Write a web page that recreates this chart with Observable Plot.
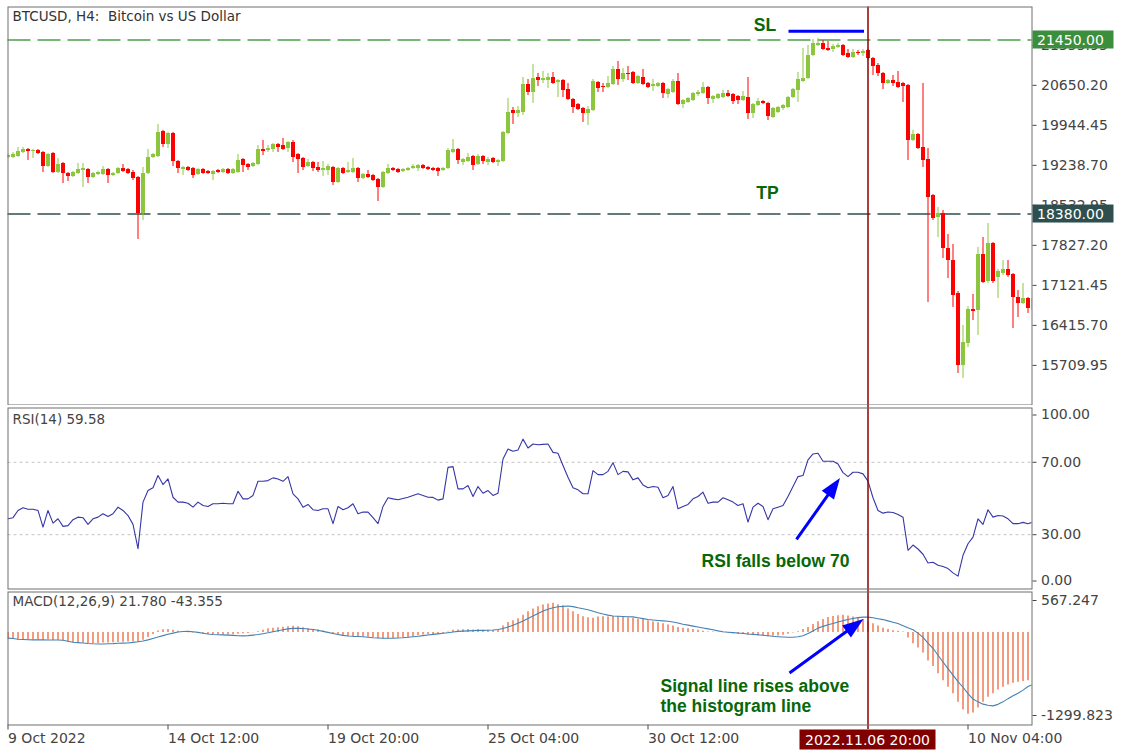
<!DOCTYPE html>
<html>
<head>
<meta charset="utf-8">
<title>BTCUSD H4</title>
<script src="https://cdn.jsdelivr.net/npm/d3@7"></script>
<script src="https://cdn.jsdelivr.net/npm/@observablehq/plot@0.6"></script>
<style>
  html, body { margin: 0; padding: 0; background: #fff; }
  #chart { position: relative; width: 1122px; height: 755px; overflow: hidden; background: #fff; }
  #chart svg { position: absolute; left: 0; }
</style>
</head>
<body>
<div id="chart"></div>
<script>
// ---------------- DATA (H4 bars, first bar index = -1) ----------------
const firstBar = -1;

const candleOpen = [
  19378,
  19378,19395,19466,19519,19483,19501,19466,19219,19448,19113,
  19272,19095,19042,19095,19148,19166,19025,19078,19078,19166,
  19060,19095,19183,19166,19113,19025,18390,19095,19378,19395,
  19836,19607,19801,19307,19166,19201,19183,19078,19166,19131,
  19078,19148,19113,19166,19095,19113,19342,19254,19219,19254,
  19519,19501,19519,19607,19589,19536,19642,19430,19360,19219,
  19289,19201,19148,19148,19201,18937,19183,19113,19113,19183,
  19007,19078,19060,18989,18848,19095,19183,19166,19131,19148,
  19183,19183,19236,19201,19183,19183,19148,19183,19466,19519,
  19289,19307,19395,19254,19395,19289,19360,19289,19307,19801,
  20207,20154,20171,20665,20524,20789,20736,20736,20789,20701,
  20736,20577,20401,20312,20242,20154,20207,20701,20630,20612,
  20665,20930,20753,20859,20877,20683,20789,20683,20630,20630,
  20683,20489,20524,20718,20312,20348,20383,20489,20506,20612,
  20401,20418,20436,20506,20489,20454,20383,20436,20154,20295,
  20365,20330,20083,20171,20242,20260,20436,20559,20718,20771,
  21177,21353,21388,21300,21283,21318,21353,21212,21142,21230,
  21212,21265,21124,21000,20859,20683,20736,20701,20683,20648,
  19677,19783,19554,19342,18707,18319,18390,17772,17561,16979,
  15708,16097,16696,16679,17666,17190,17860,17261,17331,17402,
  17314,16908,16802,16890,16679
];
const candleHigh = [
  19430,
  19466,19554,19554,19536,19519,19519,19483,19448,19466,19360,
  19289,19113,19131,19272,19272,19183,19113,19131,19219,19183,
  19113,19201,19254,19183,19148,19042,19201,19519,19448,19960,
  19854,19819,19819,19325,19219,19219,19201,19183,19183,19148,
  19148,19166,19183,19183,19183,19430,19360,19272,19289,19589,
  19677,19589,19624,19624,19713,19660,19677,19448,19378,19342,
  19307,19289,19307,19254,19219,19201,19201,19289,19360,19201,
  19095,19148,19078,19007,19131,19254,19201,19183,19183,19201,
  19254,19254,19254,19219,19201,19201,19201,19536,19695,19536,
  19360,19448,19413,19430,19413,19378,19378,19342,19836,20418,
  20260,20277,20789,20753,21018,20859,20895,20859,20877,20753,
  20753,20683,20418,20330,20260,20277,20753,20718,20683,20806,
  20983,21071,20947,20983,20895,20824,20930,20701,20753,20701,
  20701,20595,20753,20859,20401,20436,20524,20559,20701,20630,
  20471,20506,20559,20559,20506,20471,20542,20789,20330,20418,
  20383,20348,20260,20277,20312,20454,20595,20877,21300,21353,
  21459,21476,21441,21424,21371,21388,21371,21283,21283,21265,
  21283,21283,21142,21036,20877,20753,20824,20895,20701,20665,
  19854,19801,20683,19536,18725,18496,18443,18019,17843,17014,
  16414,16749,16961,17790,17966,18213,17878,17402,17561,17561,
  17331,17031,17155,16908,16926
];
const candleLow = [
  19360,
  19360,19378,19448,19325,19360,19430,19113,19201,19095,19095,
  18919,18954,19025,19078,18848,18919,19007,19060,19060,18919,
  19042,19078,19113,19078,18972,17931,18266,19078,19360,19378,
  19554,19536,19219,19095,19060,19131,19007,19060,19078,19078,
  18972,19095,19095,19078,19078,19095,19113,19148,19201,19236,
  19413,19466,19466,19466,19501,19466,19289,19095,19148,19201,
  19131,19113,19042,19060,18884,18919,19078,19095,19095,18937,
  18989,19007,18954,18601,18831,19078,19131,19095,19113,19131,
  19166,19131,19166,19148,19131,19042,19131,19166,19448,19254,
  19236,19289,19148,19236,19254,19236,19272,19219,19289,19783,
  19960,20083,20118,20471,20330,20630,20683,20595,20665,20436,
  20436,20383,20154,20207,19995,19942,20189,20524,20524,20595,
  20648,20648,20701,20736,20665,20665,20648,20595,20542,20612,
  20418,20418,20506,20295,20242,20330,20365,20454,20489,20312,
  20330,20401,20418,20436,20312,20312,20365,20048,20065,20277,
  20312,20030,20065,20154,20207,20242,20418,20348,20701,20753,
  21159,21336,21265,21247,21230,21300,21159,21124,21124,21177,
  21159,21089,20824,20806,20577,20665,20630,20595,20348,19325,
  19660,19519,19201,16820,18266,17966,17596,17243,16732,15567,
  15479,16026,16502,16238,17155,17155,17155,16890,17296,17261,
  16361,16555,16784,16626,16643
];
const candleClose = [
  19413,
  19430,19483,19519,19483,19501,19448,19219,19430,19113,19254,
  19095,19042,19113,19166,19183,19025,19095,19113,19166,19060,
  19095,19183,19131,19095,19007,18390,19095,19378,19430,19819,
  19607,19801,19307,19183,19201,19148,19060,19166,19095,19095,
  19131,19113,19166,19095,19166,19325,19236,19201,19272,19519,
  19483,19536,19607,19554,19519,19642,19378,19342,19201,19289,
  19183,19148,19183,19219,18937,19183,19095,19148,19183,19007,
  19078,19025,18972,18848,19113,19183,19148,19113,19166,19183,
  19219,19236,19183,19166,19148,19131,19183,19501,19519,19325,
  19342,19378,19236,19395,19307,19342,19289,19325,19819,20171,
  20154,20207,20665,20524,20771,20736,20771,20789,20683,20736,
  20559,20401,20260,20224,20154,20224,20718,20595,20612,20683,
  20930,20753,20859,20842,20683,20806,20665,20612,20665,20683,
  20506,20577,20718,20312,20383,20418,20506,20524,20612,20418,
  20454,20489,20506,20454,20365,20383,20454,20154,20312,20365,
  20330,20101,20242,20260,20295,20436,20577,20753,20771,21177,
  21388,21388,21283,21265,21336,21353,21177,21142,21230,21212,
  21247,21124,20983,20859,20683,20736,20683,20612,20630,19677,
  19783,19536,19325,18672,18301,18390,17772,17561,16943,15708,
  16114,16696,16661,17666,17173,17860,17190,17367,17402,17296,
  16908,16802,16890,16714,16890
];
const rsiValues = [
  38.8,
  39.4,43.4,44.9,44.1,44.1,43.4,34.2,43.4,36.4,38.8,
  34.6,35,38.3,39.7,39.4,35.7,38.8,39.7,41.6,40.1,
  41.6,45.2,43.4,40.6,35.7,22.3,48,54.4,55.9,62.7,
  57.7,60.8,50.7,48,48,47.4,45.2,48,46.1,45.6,
  47.1,47.1,47.4,47.1,47.1,54,49.8,49.8,51.7,59.5,
  59.5,59.9,61.4,60.8,59.5,62.1,52.6,49.8,45.2,46.7,
  43.8,43.4,44.3,44.3,36.1,45.6,43.8,44.9,47.1,41.6,
  42.5,42.5,39.4,36.1,45.6,50.4,49.8,49.3,50,50.7,
  51.7,52.6,51.7,50.7,50.6,49.1,49.8,67.2,67.6,55.3,
  55.3,57.2,51.1,56.6,52.9,54.4,51.7,52.9,71.8,77.3,
  76.1,76.8,82.8,77.9,80.1,79.7,79.9,80.1,75.5,75,
  68.2,61.7,55.9,54.8,52.6,52.6,65.4,63.2,63.2,65,
  69.8,63.2,65,64.7,60.3,61.4,57.5,55.9,56.6,56.2,
  50.4,51.7,56.6,44.3,45.6,46.7,49.8,51.1,53.5,47.4,
  48,48,50.4,49.3,48,46.1,47.1,37,45.2,47.4,
  45.6,38.3,44.3,45.2,46.1,51.1,56.6,62.1,62.7,71.3,
  74.6,75,70.6,70.6,70.6,69.1,64.3,62.1,64.5,64.5,
  63.6,59.6,50.4,43.4,41.9,42.5,42.3,41.2,39.7,21.4,
  24.3,22.1,19.2,14.4,14.8,13.1,12.4,11.3,8.9,7.1,
  18.6,25,28.7,38.8,35.7,43.8,39.7,40.6,40.3,38.8,
  36.1,36.1,36.8,36.1,37
];
const macdHist = [
  -95,
  -100,-105,-108,-108,-105,-105,-110,-108,-112,-110,
  -120,-140,-148,-150,-150,-155,-158,-155,-150,-150,
  -145,-140,-138,-135,-130,-140,-110,-70,-30,20,
  38,40,30,15,5,-5,-10,-15,-25,-30,
  -33,-33,-35,-35,-33,-25,-20,-15,-5,10,
  30,50,60,65,72,80,85,78,65,50,
  40,35,20,0,-30,-45,-55,-57,-57,-60,
  -62,-68,-75,-85,-90,-88,-85,-82,-80,-75,
  -60,-45,-38,-33,-30,-25,-15,5,30,35,
  38,40,35,38,32,30,28,30,90,140,
  165,190,240,290,330,360,385,400,410,390,
  370,330,290,250,220,205,200,215,220,218,
  222,220,215,205,195,185,180,165,145,135,
  120,105,90,70,60,50,40,30,15,5,
  5,0,-5,-10,-20,-30,-30,-40,-45,-50,
  -55,-60,-55,-50,-40,-25,-10,10,40,70,
  110,150,180,210,225,235,240,230,215,200,
  180,150,120,90,60,40,25,15,5,-80,
  -160,-220,-290,-400,-480,-580,-680,-770,-860,-980,
  -1090,-1150,-1130,-1060,-980,-910,-860,-810,-770,-740,
  -715,-700,-690,-680,-665
];
const macdSignal = [
  -80,
  -85,-95,-100,-104,-105,-105,-105,-106,-106,-107,
  -110,-125,-138,-143,-148,-155,-160,-162,-162,-160,
  -157,-152,-150,-148,-140,-132,-120,-105,-85,-65,
  -45,-25,-10,5,12,14,10,0,-12,-22,
  -30,-33,-35,-38,-42,-46,-48,-45,-38,-30,
  -18,-5,10,24,38,50,57,58,55,48,
  40,30,15,0,-15,-30,-42,-50,-55,-58,
  -62,-68,-74,-78,-81,-82,-81,-78,-74,-68,
  -60,-53,-45,-37,-28,-20,-12,-4,5,14,
  18,22,25,28,29,30,33,40,55,75,
  100,130,160,195,230,265,300,325,345,360,
  365,370,362,345,333,318,298,275,258,243,
  230,226,223,220,218,205,193,182,175,168,
  162,157,145,132,115,102,88,75,62,50,
  37,22,10,3,-3,-9,-15,-22,-27,-33,
  -40,-47,-55,-60,-64,-67,-67,-62,-48,-15,
  20,60,85,108,124,145,165,180,195,208,
  214,214,205,192,180,162,143,124,95,65,
  38,-10,-70,-150,-223,-320,-415,-508,-600,-690,
  -770,-860,-936,-975,-1007,-1022,-1031,-1010,-975,-930,
  -890,-855,-810,-760,-730
];

const priceTicks = [21355.95, 20650.20, 19944.45, 19238.70, 18532.95, 17827.20, 17121.45, 16415.70, 15709.95];
const priceDomain = [15011, 22032];
const slLevel = 21450;
const tpLevel = 18380;
const rsiLevels = [70, 30];
const rsiDomain = [0, 100];
const macdDomain = [-1299.823, 567.247];
const timeTickBars = [-1, 31, 63, 95, 127, 191];
const timeTickLabels = ["9 Oct 2022", "14 Oct 12:00", "19 Oct 20:00", "25 Oct 04:00", "30 Oct 12:00", "10 Nov 04:00"];
const selectedBar = 171;
const selectedLabel = "2022.11.06 20:00";

const titleText = "BTCUSD, H4:  Bitcoin vs US Dollar";
const rsiLabel = "RSI(14) 59.58";
const macdLabel = "MACD(12,26,9) 21.780 -43.355";

// annotations (in data units: bar index, value)
const slMarker = {x1: 155.2, x2: 170.3, y: 21605};
const levelTexts = [{bar: 150.4, price: 21706, text: "SL"}, {bar: 150.9, price: 18737, text: "TP"}];
const rsiNote = {bar: 152.5, value: 15.3, text: "RSI falls below 70"};
const rsiArrow = {x1: 156.7, y1: 27.4, x2: 165.4, y2: 61.3};
const macdNote = {bar: 129.5, value: -886, text: "Signal line rises above\nthe histogram line"};
const macdArrow = {x1: 155.3, y1: -570, x2: 170.1, y2: 187};

// ---------------- LAYOUT / STYLE ----------------
const W = 1122;
const plotLeft = 7.5, plotRight = 1031.5;
const xDomain = [-1, 203.8];
const fontMain = '"DejaVu Sans", Verdana, sans-serif';
const baseStyle = {fontFamily: fontMain, fontSize: "14px", color: "#444", background: "white"};
const annoFont = '"Liberation Sans", Arial, sans-serif';
const annoSize = 17.5;
const annoColor = "#086808";
const upColor = "#8cc63f", downColor = "#ff0000";
const cursorColor = "#8b0000";
const frameColor = "#6e6e6e";
const arrowColor = "#0000ff";

const candles = candleOpen.map((o, k) => ({bar: firstBar + k, open: o, high: candleHigh[k], low: candleLow[k], close: candleClose[k]}));
const upC = candles.filter(d => d.close >= d.open);
const downC = candles.filter(d => d.close < d.open);
const rsiData = rsiValues.map((v, k) => ({bar: firstBar + k, rsi: v}));
const macdData = macdHist.map((v, k) => ({bar: firstBar + k, hist: v, signal: macdSignal[k]}));
const tickLabelOf = new Map(timeTickBars.map((b, i) => [b, timeTickLabels[i]]));

const kx = (plotRight - plotLeft) / (xDomain[1] - xDomain[0]);

const arrowHeadSymbol = {
  draw(ctx) { ctx.moveTo(0, -13); ctx.lineTo(7.5, 8); ctx.lineTo(-7.5, 8); ctx.closePath(); }
};
function arrowMarks(a, ky) {
  const dx = (a.x2 - a.x1) * kx, dy = -(a.y2 - a.y1) * ky;
  const len = Math.hypot(dx, dy), ux = dx / len, uy = dy / len;
  const back = 13;
  const head = {x: a.x2 - ux * back / kx, y: a.y2 + uy * back / ky};
  const rot = Math.atan2(ux, -uy) * 180 / Math.PI;
  return [
    Plot.link([a], {x1: "x1", y1: "y1", x2: () => head.x, y2: () => head.y, stroke: arrowColor, strokeWidth: 3}),
    Plot.dot([head], {x: "x", y: "y", rotate: rot, symbol: arrowHeadSymbol, fill: arrowColor, stroke: "none", r: 6})
  ];
}

function candleMarks(data, color) {
  return [
    Plot.ruleX(data, {x: "bar", y1: "low", y2: "high", stroke: color, strokeWidth: 1, clip: true}),
    Plot.ruleX(data, {x: "bar", y1: "open", y2: "close", stroke: color, strokeWidth: 4, clip: true})
  ];
}

// ---------------- MAIN PRICE PANEL ----------------
const mainH = 405;
const main = Plot.plot({
  width: W, height: mainH,
  marginLeft: plotLeft, marginRight: W - plotRight, marginTop: 6.5, marginBottom: 0.5,
  style: baseStyle,
  x: {domain: xDomain, axis: null},
  y: {domain: priceDomain},
  marks: [
    Plot.ruleY([slLevel], {stroke: "#4a9f4a", strokeWidth: 1.5, strokeDasharray: "23,7"}),
    Plot.ruleY([tpLevel], {stroke: "#2f4f4f", strokeWidth: 1.5, strokeDasharray: "23,7"}),
    ...candleMarks(upC, upColor),
    ...candleMarks(downC, downColor),
    Plot.ruleX([selectedBar], {stroke: cursorColor, strokeWidth: 1.5, insetBottom: -0.5}),
    Plot.ruleY([slMarker], {x1: "x1", x2: "x2", y: "y", stroke: "#0000ff", strokeWidth: 3}),
    Plot.text(levelTexts, {x: "bar", y: "price", text: "text", fill: annoColor, fontFamily: annoFont, fontWeight: "bold", fontSize: annoSize}),
    Plot.text([titleText], {text: d => d, frameAnchor: "top-left", dx: 4.5, dy: 4, fontSize: 13.5, fill: "#333"}),
    Plot.axisY({anchor: "right", ticks: priceTicks, tickFormat: d => d.toFixed(2), tickSize: 4, tickPadding: 5, label: null}),
    Plot.frame({stroke: frameColor})
  ]
});

// ---------------- RSI PANEL ----------------
const rsiTop = 405, rsiH = 186;
const kyRsi = (rsiH - 5) / (rsiDomain[1] - rsiDomain[0]);
const rsiPlot = Plot.plot({
  width: W, height: rsiH,
  marginLeft: plotLeft, marginRight: W - plotRight, marginTop: 2.5, marginBottom: 2.5,
  style: baseStyle,
  x: {domain: xDomain, axis: null},
  y: {domain: rsiDomain},
  marks: [
    Plot.ruleY(rsiLevels, {stroke: "#c4c4c4", strokeDasharray: "3,3"}),
    Plot.line(rsiData, {x: "bar", y: "rsi", stroke: "#3636a8", strokeWidth: 1.1, clip: true}),
    Plot.ruleX([selectedBar], {stroke: cursorColor, strokeWidth: 1.5, insetTop: -2.5, insetBottom: -2.5}),
    ...arrowMarks(rsiArrow, kyRsi),
    Plot.text([rsiNote], {x: "bar", y: "value", text: "text", fill: annoColor, fontFamily: annoFont, fontWeight: "bold", fontSize: annoSize}),
    Plot.text([rsiLabel], {text: d => d, frameAnchor: "top-left", dx: 4.5, dy: 6.5, fontSize: 13.5, fill: "#444"}),
    Plot.axisY({anchor: "right", ticks: rsiLevels, tickFormat: d => d.toFixed(2), tickSize: 4, tickPadding: 5, label: null}),
    Plot.axisY({anchor: "right", ticks: [rsiDomain[1]], tickFormat: d => d.toFixed(2), tickSize: 4, tickPadding: 5, dy: 7, label: null}),
    Plot.axisY({anchor: "right", ticks: [rsiDomain[0]], tickFormat: d => d.toFixed(2), tickSize: 4, tickPadding: 5, dy: -8, label: null}),
    Plot.frame({stroke: frameColor})
  ]
});

// ---------------- MACD PANEL ----------------
const macdTop = 591, macdH = 164;
const kyMacd = (macdH - 31) / (macdDomain[1] - macdDomain[0]);
const macdPlot = Plot.plot({
  width: W, height: macdH,
  marginLeft: plotLeft, marginRight: W - plotRight, marginTop: 0.5, marginBottom: 30.5,
  style: baseStyle,
  x: {domain: xDomain},
  y: {domain: macdDomain},
  marks: [
    Plot.ruleX(macdData, {x: "bar", y1: 0, y2: "hist", stroke: "#f29b7e", strokeWidth: 2, clip: true}),
    Plot.line(macdData, {x: "bar", y: "signal", stroke: "#4682b4", strokeWidth: 1.1, clip: true}),
    Plot.ruleX([selectedBar], {stroke: cursorColor, strokeWidth: 1.5, insetTop: -0.5, insetBottom: -4.5}),
    ...arrowMarks(macdArrow, kyMacd),
    Plot.text([macdNote], {x: "bar", y: "value", text: "text", textAnchor: "start", lineHeight: 1.15, fill: annoColor, fontFamily: annoFont, fontWeight: "bold", fontSize: annoSize}),
    Plot.text([macdLabel], {text: d => d, frameAnchor: "top-left", dx: 4.5, dy: 4.5, fontSize: 13.5, fill: "#444"}),
    Plot.axisY({anchor: "right", ticks: [macdDomain[1]], tickFormat: d => d.toFixed(3), tickSize: 4, tickPadding: 5, dy: 8.5, label: null}),
    Plot.axisY({anchor: "right", ticks: [macdDomain[0]], tickFormat: d => d.toFixed(3), tickSize: 4, tickPadding: 5, dy: -9.5, label: null}),
    Plot.axisX({anchor: "bottom", ticks: timeTickBars, tickFormat: d => tickLabelOf.get(d), tickSize: 5, tickPadding: 3, textAnchor: "start", label: null}),
    Plot.frame({stroke: frameColor})
  ]
});

// ---------------- ASSEMBLE ----------------
const chart = document.getElementById("chart");
main.style.top = "0px";
rsiPlot.style.top = rsiTop + "px";
macdPlot.style.top = macdTop + "px";
chart.appendChild(main);
chart.appendChild(rsiPlot);
chart.appendChild(macdPlot);

// price-level value boxes on the right axis (cover the axis label beneath, as in the terminal)
function valueBox(svg, value, fill) {
  const y = svg.scale("y").apply(value);
  const g = d3.select(svg).append("g");
  g.append("rect").attr("x", plotRight + 1).attr("y", y - 9).attr("width", 81).attr("height", 18).attr("fill", fill);
  g.append("text").attr("x", plotRight + 5.5).attr("y", y).attr("dy", "0.36em").attr("text-anchor", "start")
    .attr("fill", "#fff").attr("font-size", 14).text(value.toFixed(2));
}
valueBox(main, slLevel, "#3b8e3b");
valueBox(main, tpLevel, "#2f4f4f");

// selected time label box
(function () {
  const x = macdPlot.scale("x").apply(selectedBar);
  const yTop = macdH - 30.5 + 5;
  const g = d3.select(macdPlot).append("g");
  g.append("rect").attr("x", x - 68).attr("y", yTop).attr("width", 136).attr("height", 20).attr("fill", "#800000");
  g.append("text").attr("x", x).attr("y", yTop + 10).attr("dy", "0.36em").attr("text-anchor", "middle")
    .attr("fill", "#fff").attr("font-size", 14).text(selectedLabel);
})();
</script>
</body>
</html>
